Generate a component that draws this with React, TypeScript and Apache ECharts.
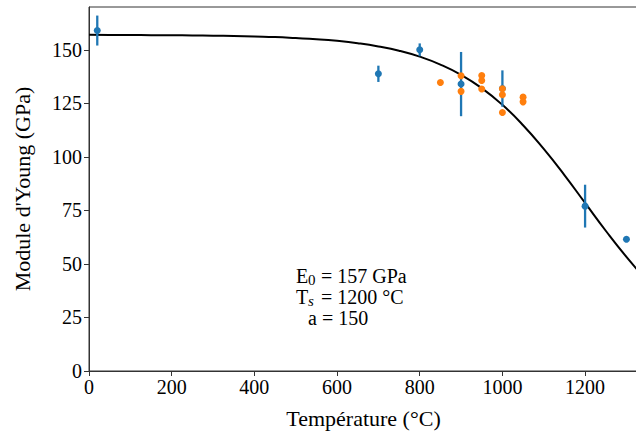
import React, { useEffect, useRef } from "react";
import * as echarts from "echarts";

// Blue measurements with error bars: [temperature, modulus, error]
const blueT = [20, 700, 800, 900, 1000, 1200, 1300];
const blueE = [159, 138.8, 150, 134, 131.9, 77, 61.5];
const blueErr = [7, 3.8, 3, 15, 8.5, 10, 0];

// Orange measurements
const orangeT = [850, 900, 900, 950, 950, 950, 1000, 1000, 1000, 1050, 1050];
const orangeE = [134.7, 137.9, 130.6, 138, 135.7, 131.7, 131.8, 129, 120.7, 127.9, 125.7];

// Fitted curve (E0 = 157 GPa, Ts = 1200 °C, a = 150)
const curveT = [0, 50, 100, 150, 200, 250, 300, 350, 400, 450, 500, 550, 600, 650, 700, 750, 800, 850, 900, 950, 1000, 1050, 1100, 1150, 1200, 1250, 1300, 1350];
const curveE = [157, 156.93, 156.9, 156.86, 156.8, 156.72, 156.6, 156.46, 156.2, 155.95, 155.5, 154.97, 154.2, 153.1, 151.6, 149.6, 146.8, 143.1, 138.3, 132.1, 124.3, 114.8, 103.7, 91.5, 78.5, 65.5, 53.3, 42.2];

const xTicks = [0, 200, 400, 600, 800, 1000, 1200];
const yTicks = [0, 25, 50, 75, 100, 125, 150];

const FONT = "Liberation Serif";

export default function App() {
  const ref = useRef<HTMLDivElement>(null);
  useEffect(() => {
    document.body.style.margin = "0";
    const chart = echarts.init(ref.current!, null, { renderer: "svg" });
    const axisLine = { show: true, lineStyle: { color: "#333", width: 1 } };
    const fmt = (v: number) => String(v);
    const option: any = {
      animation: false,
      backgroundColor: "#fff",
      grid: {
        left: 89,
        top: 7,
        right: -2,
        bottom: 63,
        show: true,
        borderColor: "#333",
        borderWidth: 1,
        containLabel: false,
        outerBoundsMode: "none",
      },
      xAxis: {
        type: "value",
        min: 0,
        max: 1328,
        name: "Température (°C)",
        nameLocation: "middle",
        nameGap: 36,
        nameTextStyle: { fontFamily: FONT, fontSize: 22, color: "#000" },
        axisLine,
        axisTick: { show: true, length: 5, customValues: xTicks, lineStyle: { color: "#333" } },
        axisLabel: { customValues: xTicks, formatter: fmt, fontFamily: FONT, fontSize: 20, color: "#000", margin: 6 },
        splitLine: { show: false },
      },
      yAxis: {
        type: "value",
        min: 0,
        max: 170,
        name: "Module d'Young (GPa)",
        nameLocation: "middle",
        nameGap: 56,
        nameTextStyle: { fontFamily: FONT, fontSize: 22, color: "#000" },
        axisLine,
        axisTick: { show: true, length: 5, customValues: yTicks, lineStyle: { color: "#333" } },
        axisLabel: { customValues: yTicks, formatter: fmt, fontFamily: FONT, fontSize: 20, color: "#000", margin: 7 },
        splitLine: { show: false },
      },
      series: [
        {
          type: "line",
          data: curveT.map((t, i) => [t, curveE[i]]),
          smooth: true,
          showSymbol: false,
          clip: true,
          lineStyle: { color: "#000", width: 2 },
          z: 2,
        },
        {
          type: "custom",
          data: blueT.map((t, i) => [t, blueE[i], blueErr[i]]),
          renderItem: (params: any, api: any) => {
            const x = api.value(0);
            const y = api.value(1);
            const e = api.value(2);
            if (!e) return null;
            const p1 = api.coord([x, y - e]);
            const p2 = api.coord([x, y + e]);
            return {
              type: "line",
              shape: { x1: p1[0], y1: p1[1], x2: p2[0], y2: p2[1] },
              style: { stroke: "#1f77b4", lineWidth: 2.3 },
            };
          },
          z: 3,
        },
        {
          type: "scatter",
          data: blueT.map((t, i) => [t, blueE[i]]),
          symbolSize: 7,
          itemStyle: { color: "#1f77b4", opacity: 1 },
          z: 4,
        },
        {
          type: "scatter",
          data: orangeT.map((t, i) => [t, orangeE[i]]),
          symbolSize: 7,
          itemStyle: { color: "#ff7f0e", opacity: 1 },
          z: 5,
        },
      ],
      graphic: [
        {
          type: "group",
          left: 296,
          top: 266,
          children: [
            { type: "text", x: 0, y: 0, style: { text: "E", font: `20px ${FONT}`, fill: "#000" } },
            { type: "text", x: 12, y: 6, style: { text: "0", font: `15px ${FONT}`, fill: "#000" } },
            { type: "text", x: 25, y: 0, style: { text: "= 157 GPa", font: `20px ${FONT}`, fill: "#000" } },
            { type: "text", x: 0, y: 21, style: { text: "T", font: `20px ${FONT}`, fill: "#000" } },
            { type: "text", x: 12, y: 27, style: { text: "s", font: `italic 15px ${FONT}`, fill: "#000" } },
            { type: "text", x: 25, y: 21, style: { text: "= 1200 °C", font: `20px ${FONT}`, fill: "#000" } },
            { type: "text", x: 12, y: 42, style: { text: "a = 150", font: `20px ${FONT}`, fill: "#000" } },
          ],
        },
      ],
    };
    chart.setOption(option);
    return () => chart.dispose();
  }, []);
  return (
    <div
      ref={ref}
      style={{ position: "absolute", left: 0, top: 0, width: 636, height: 434 }}
    />
  );
}
